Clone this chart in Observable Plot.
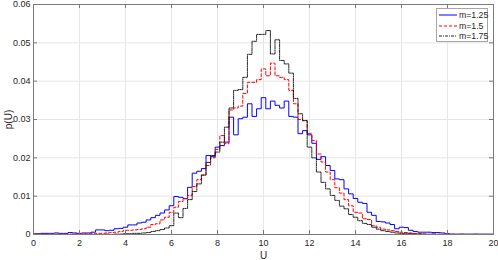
<!DOCTYPE html>
<html>
<head>
<meta charset="utf-8">
<script src="https://cdn.jsdelivr.net/npm/d3@7"></script>
<script src="https://cdn.jsdelivr.net/npm/@observablehq/plot@0.6"></script>
<style>
  html, body { margin: 0; padding: 0; background: #fff; }
  #wrap { position: relative; width: 498px; height: 260px; font-family: "Liberation Sans", Arial, sans-serif; }
  #legend { position: absolute; left: 436px; top: 8px; width: 52px; height: 34px; box-sizing: border-box;
            border: 1px solid #a6a6a6; background: #fff; font-size: 8.7px; color: #262626; }
  .row { position: absolute; left: 1px; height: 10px; display: flex; align-items: center; }
  .row svg { width: 19px; height: 10px; }
  .row span { margin-left: 2px; line-height: 10px; }
</style>
</head>
<body>
<div id="wrap"><div id="chart"></div><div id="legend"></div></div>
<script>
// Histogram bin centres run 0, 0.2, ..., 20 (bin width 0.2)
const binWidth = 0.2;
const seriesNames = ["m=1.25", "m=1.5", "m=1.75"];
const seriesColors = ["#0000ff", "#ff0000", "#000000"];
const seriesDash = [null, "3,2", "3,1,1,1"];
const seriesWidth = [1, 1, 0.85];

const p125 = [
  0.0002, 0.0002, 0.0003, 0.0003, 0.0003, 0.0004, 0.0003, 0.0003, 0.0005, 0.0004,
  0.0003, 0.0004, 0.0004, 0.0006, 0.0012, 0.0012, 0.0010, 0.0011, 0.0015, 0.0016,
  0.0019, 0.0025, 0.0025, 0.0030, 0.0032, 0.0038, 0.0044, 0.0050, 0.0056, 0.0064,
  0.0075, 0.0099, 0.0097, 0.0094, 0.0123, 0.0160, 0.0165, 0.0172, 0.0206, 0.0203,
  0.0228, 0.0232, 0.0241, 0.0306, 0.0260, 0.0302, 0.0306, 0.0341, 0.0308, 0.0328,
  0.0357, 0.0328, 0.0348, 0.0337, 0.0330, 0.0348, 0.0308, 0.0306, 0.0263, 0.0271,
  0.0260, 0.0238, 0.0196, 0.0203, 0.0180, 0.0167, 0.0145, 0.0143, 0.0119, 0.0106,
  0.0094, 0.0084, 0.0081, 0.0058, 0.0050, 0.0034, 0.0033, 0.0030, 0.0026, 0.0015,
  0.0019, 0.0018, 0.0011, 0.0008, 0.0006, 0.0006, 0.0006, 0.0005, 0.0005, 0.0004,
  0.0002, 0.0001, 0.0001, 0.0001, 0.0001, 0.0001, 0.0001, 0.0001, 0.0001, 0.0001,
  0.0001
];
const p150 = [
  0.0001, 0.0001, 0.0001, 0.0000, 0.0001, 0.0001, 0.0001, 0.0001, 0.0001, 0.0002,
  0.0001, 0.0002, 0.0002, 0.0002, 0.0003, 0.0003, 0.0004, 0.0005, 0.0006, 0.0008,
  0.0011, 0.0011, 0.0012, 0.0013, 0.0015, 0.0019, 0.0026, 0.0028, 0.0038, 0.0045,
  0.0058, 0.0071, 0.0086, 0.0093, 0.0102, 0.0125, 0.0143, 0.0155, 0.0180, 0.0200,
  0.0222, 0.0258, 0.0237, 0.0325, 0.0330, 0.0335, 0.0368, 0.0397, 0.0397, 0.0404,
  0.0432, 0.0414, 0.0447, 0.0414, 0.0410, 0.0404, 0.0376, 0.0341, 0.0300, 0.0297,
  0.0263, 0.0245, 0.0210, 0.0189, 0.0163, 0.0143, 0.0122, 0.0108, 0.0091, 0.0075,
  0.0058, 0.0056, 0.0041, 0.0039, 0.0023, 0.0019, 0.0014, 0.0012, 0.0010, 0.0008,
  0.0006, 0.0005, 0.0004, 0.0003, 0.0002, 0.0001, 0.0001, 0.0001, 0.0001, 0.0001,
  0.0000, 0.0001, 0.0000, 0.0001, 0.0000, 0.0000, 0.0001, 0.0000, 0.0000, 0.0000,
  0.0000
];
const p175 = [
  0.0000, 0.0000, 0.0000, 0.0000, 0.0000, 0.0000, 0.0000, 0.0000, 0.0000, 0.0000,
  0.0000, 0.0000, 0.0000, 0.0000, 0.0000, 0.0000, 0.0001, 0.0000, 0.0001, 0.0001,
  0.0002, 0.0002, 0.0003, 0.0003, 0.0004, 0.0005, 0.0008, 0.0010, 0.0013, 0.0017,
  0.0023, 0.0056, 0.0044, 0.0068, 0.0091, 0.0112, 0.0132, 0.0155, 0.0188, 0.0206,
  0.0215, 0.0241, 0.0280, 0.0330, 0.0376, 0.0378, 0.0410, 0.0470, 0.0504, 0.0522,
  0.0522, 0.0532, 0.0471, 0.0508, 0.0454, 0.0445, 0.0421, 0.0355, 0.0315, 0.0297,
  0.0228, 0.0200, 0.0163, 0.0136, 0.0119, 0.0102, 0.0089, 0.0074, 0.0067, 0.0052,
  0.0045, 0.0036, 0.0029, 0.0026, 0.0019, 0.0014, 0.0010, 0.0008, 0.0006, 0.0004,
  0.0003, 0.0003, 0.0002, 0.0001, 0.0001, 0.0001, 0.0000, 0.0001, 0.0000, 0.0000,
  0.0000, 0.0000, 0.0000, 0.0000, 0.0000, 0.0000, 0.0000, 0.0000, 0.0000, 0.0000,
  0.0000
];
const xTicks = [0, 2, 4, 6, 8, 10, 12, 14, 16, 18, 20];
const yTicks = [0, 0.01, 0.02, 0.03, 0.04, 0.05, 0.06];

const allSeries = [p125, p150, p175];
// stair points: left edge of each bin, plus closing right edge
function stairs(vals, name) {
  const pts = vals.map((v, k) => ({x: k * binWidth - binWidth / 2, y: v, s: name}));
  pts.push({x: (vals.length - 1) * binWidth + binWidth / 2, y: vals[vals.length - 1], s: name});
  return pts;
}

const W = 498, H = 260, mL = 33, mR = 5, mT = 4, mB = 26;
const fw = W - mL - mR, fh = H - mT - mB, tl = 4;
const axisColor = "#262626";

const lineMarks = allSeries.map((vals, i) =>
  Plot.line(stairs(vals, seriesNames[i]), {
    x: "x", y: "y", curve: "step-after", clip: true,
    stroke: seriesColors[i], strokeWidth: seriesWidth[i],
    strokeDasharray: seriesDash[i] || undefined
  })
);

const chart = Plot.plot({
  width: W, height: H,
  marginLeft: mL, marginRight: mR, marginTop: mT, marginBottom: mB,
  style: {fontFamily: "'Liberation Sans', Arial, sans-serif", fontSize: "9px", color: axisColor, background: "#fff"},
  x: {domain: [0, 20]},
  y: {domain: [0, 0.06]},
  marks: [
    Plot.gridX(xTicks, {stroke: "#e6e6e6", strokeOpacity: 1}),
    Plot.gridY(yTicks, {stroke: "#e6e6e6", strokeOpacity: 1}),
    ...lineMarks,
    Plot.frame({stroke: "#7a7a7a", strokeWidth: 1}),
    Plot.tickX(xTicks, {x: d => d, insetTop: fh - tl, stroke: "#7a7a7a"}),
    Plot.tickX(xTicks, {x: d => d, insetBottom: fh - tl, stroke: "#7a7a7a"}),
    Plot.tickY(yTicks, {y: d => d, insetRight: fw - tl, stroke: "#7a7a7a"}),
    Plot.tickY(yTicks, {y: d => d, insetLeft: fw - tl, stroke: "#7a7a7a"}),
    Plot.axisX(xTicks, {tickSize: 0, tickPadding: 5, fontSize: 9, fill: axisColor,
      label: "U", labelAnchor: "center", labelArrow: "none", labelOffset: 24}),
    Plot.axisY(yTicks, {tickSize: 0, tickPadding: 3, fontSize: 9, fill: axisColor,
      tickFormat: d => d === 0 ? "0" : d.toFixed(2),
      label: "p(U)", labelAnchor: "center", labelArrow: "none", labelOffset: 29})
  ]
});
document.getElementById("chart").appendChild(chart);
d3.select(chart).selectAll("[aria-label$='axis label'] text").style("font-size", "10px");

// legend
const leg = document.getElementById("legend");
seriesNames.forEach((name, i) => {
  const row = document.createElement("div");
  row.className = "row";
  row.style.top = (1 + i * 10.5) + "px";
  row.innerHTML = `<svg viewBox="0 0 19 10"><line x1="1" x2="19" y1="5" y2="5" stroke="${seriesColors[i]}" stroke-width="${seriesWidth[i]}" ${seriesDash[i] ? `stroke-dasharray="${seriesDash[i]}"` : ""}/></svg><span>${name}</span>`;
  leg.appendChild(row);
});
</script>
</body>
</html>
